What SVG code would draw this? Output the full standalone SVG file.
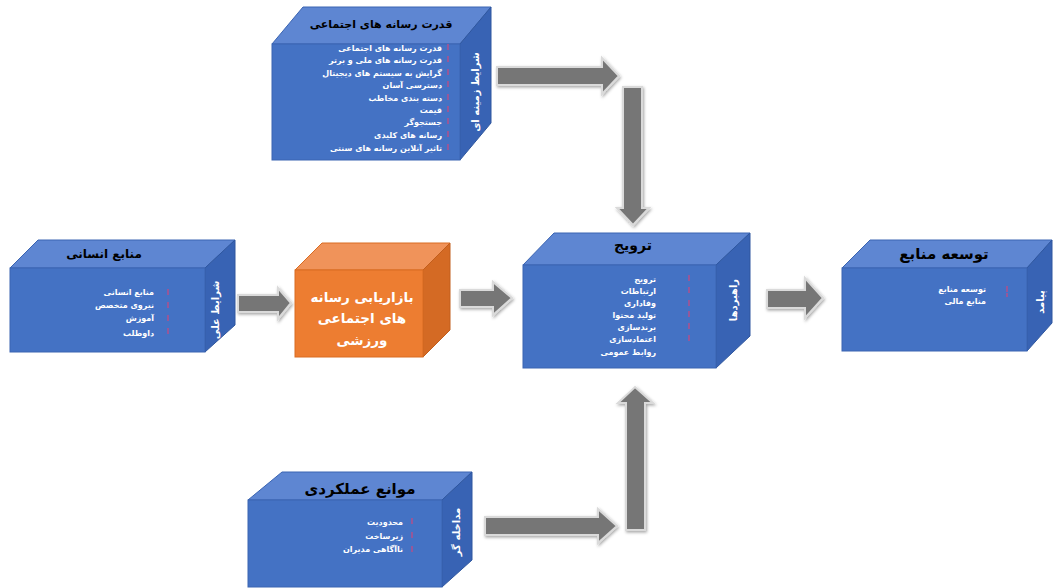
<svg xmlns="http://www.w3.org/2000/svg" width="1055" height="588" viewBox="0 0 1055 588">
<defs>
<filter id="sh" x="-20%" y="-20%" width="140%" height="140%">
<feDropShadow dx="1" dy="1.5" stdDeviation="1.5" flood-color="#000" flood-opacity="0.35"/>
</filter>
<style>
.front{fill:#4472C4;stroke:#3A64B2;stroke-width:1}
.top{fill:#5E86D2;stroke:#3A64B2;stroke-width:1}
.side{fill:#3863B4;stroke:#2F579F;stroke-width:1}
.ofront{fill:#ED7D31;stroke:#D96C22;stroke-width:1}
.otop{fill:#F0935A;stroke:#D96C22;stroke-width:1}
.oside{fill:#D46A24;stroke:#C25E1C;stroke-width:1}
.t{font-family:"DejaVu Sans",sans-serif;font-weight:bold;fill:#000000}
.it{font-family:"DejaVu Sans",sans-serif;font-weight:bold;fill:#ffffff;font-size:8px}
.vs{font-family:"DejaVu Sans",sans-serif;font-weight:bold;fill:#ffffff;font-size:10px}
.ot{font-family:"DejaVu Sans",sans-serif;font-weight:bold;fill:#ffffff;font-size:13.5px}
.b{fill:#B0508C;opacity:0.75}
.arr{fill:#767676;stroke:#DADADA;stroke-width:2;filter:url(#sh)}
</style>
</defs>
<rect width="1055" height="588" fill="#ffffff"/>

<g id="connectors">
<polygon class="arr" points="497,67 602,67 602,58 619,76 602,94 602,85 497,85"/>
<polygon class="arr" points="623,87 642,87 642,208 649,208 633,225 617,208 623,208"/>
<polygon class="arr" points="238,295 278,295 278,288 291,303 278,319 278,312 238,312"/>
<polygon class="arr" points="460,290 493,290 493,282 512,298 493,315 493,307 460,307"/>
<polygon class="arr" points="767,290 805,290 805,278 823,298 805,318 805,308 767,308"/>
<polygon class="arr" points="485,517 598,517 598,509 617,526 598,543 598,535 485,535"/>
<polygon class="arr" points="626,530 626,403 618,403 635,387 653,403 645,403 645,530"/>
</g>

<g id="node-top">
<polygon class="top" points="272,44 303,7 491,7 460,44"/>
<polygon class="side" points="460,44 491,7 491,123 460,160"/>
<rect class="front" x="272" y="44" width="188" height="116"/>
<text class="t" x="381" y="28" font-size="11" text-anchor="middle">قدرت رسانه های اجتماعی</text>
<text class="vs" transform="translate(479,92) rotate(-90)" text-anchor="middle">شرایط زمینه ای</text>
<g>
<rect class="b" x="447" y="44" width="2" height="6"/><rect class="b" x="447" y="56" width="2" height="6"/><rect class="b" x="447" y="69" width="2" height="6"/><rect class="b" x="447" y="81" width="2" height="6"/><rect class="b" x="447" y="94" width="2" height="6"/><rect class="b" x="447" y="106" width="2" height="6"/><rect class="b" x="447" y="118" width="2" height="6"/><rect class="b" x="447" y="131" width="2" height="6"/><rect class="b" x="447" y="144" width="2" height="6"/>
</g>
<text class="it" x="442" y="51" text-anchor="end">قدرت رسانه های اجتماعی</text>
<text class="it" x="442" y="63" text-anchor="end">قدرت رسانه های ملی و برتر</text>
<text class="it" x="442" y="76" text-anchor="end">گرایش به سیستم های دیجیتال</text>
<text class="it" x="442" y="88" text-anchor="end">دسترسی آسان</text>
<text class="it" x="442" y="101" text-anchor="end">دسته بندی مخاطب</text>
<text class="it" x="442" y="113" text-anchor="end">قیمت</text>
<text class="it" x="442" y="125" text-anchor="end">جستجوگر</text>
<text class="it" x="442" y="138" text-anchor="end">رسانه های کلیدی</text>
<text class="it" x="442" y="151" text-anchor="end">تاثیر آنلاین رسانه های سنتی</text>
</g>

<g id="node-left">
<polygon class="top" points="10,268 38,240 235,240 205,268"/>
<polygon class="side" points="205,268 235,240 235,325 205,352"/>
<rect class="front" x="10" y="268" width="195" height="84"/>
<text class="t" x="104" y="258" font-size="12" text-anchor="middle">منابع انسانی</text>
<text class="vs" transform="translate(219,310) rotate(-90)" text-anchor="middle">شرایط علی</text>
<rect class="b" x="167" y="289" width="2" height="6"/><rect class="b" x="167" y="302" width="2" height="6"/><rect class="b" x="167" y="315" width="2" height="6"/><rect class="b" x="167" y="328" width="2" height="6"/>
<text class="it" x="154" y="295" text-anchor="end">منابع انسانی</text>
<text class="it" x="154" y="308" text-anchor="end">نیروی متخصص</text>
<text class="it" x="154" y="321" text-anchor="end">آموزش</text>
<text class="it" x="154" y="336" text-anchor="end">داوطلب</text>
</g>

<g id="node-center-orange">
<polygon class="otop" points="295,270 322,243 450,243 423,270"/>
<polygon class="oside" points="423,270 450,243 450,330 423,357"/>
<rect class="ofront" x="295" y="270" width="128" height="87"/>
<text class="ot" x="362" y="302" text-anchor="middle">بازاریابی رسانه</text>
<text class="ot" x="362" y="323" text-anchor="middle">های اجتماعی</text>
<text class="ot" x="362" y="345" text-anchor="middle">ورزشی</text>
</g>

<g id="node-strategy">
<polygon class="top" points="523,265 554,233 750,233 716,265"/>
<polygon class="side" points="716,265 750,233 750,336 716,368"/>
<rect class="front" x="523" y="265" width="193" height="103"/>
<text class="t" x="633" y="250" font-size="14" text-anchor="middle">ترویج</text>
<text class="vs" transform="translate(737,300) rotate(-90)" text-anchor="middle">راهبردها</text>
<rect class="b" x="688" y="275" width="2" height="6"/><rect class="b" x="688" y="287" width="2" height="6"/><rect class="b" x="688" y="300" width="2" height="6"/><rect class="b" x="688" y="311" width="2" height="6"/><rect class="b" x="688" y="323" width="2" height="6"/><rect class="b" x="688" y="335" width="2" height="6"/>
<text class="it" x="656" y="282" text-anchor="end">ترویج</text>
<text class="it" x="656" y="294" text-anchor="end">ارتباطات</text>
<text class="it" x="656" y="306" text-anchor="end">وفاداری</text>
<text class="it" x="656" y="318" text-anchor="end">تولید محتوا</text>
<text class="it" x="656" y="330" text-anchor="end">برندسازی</text>
<text class="it" x="656" y="342" text-anchor="end">اعتمادسازی</text>
<text class="it" x="656" y="355" text-anchor="end">روابط عمومی</text>
</g>

<g id="node-right">
<polygon class="top" points="842,268 870,240 1052,240 1027,268"/>
<polygon class="side" points="1027,268 1052,240 1052,323 1027,351"/>
<rect class="front" x="842" y="268" width="185" height="83"/>
<text class="t" x="944" y="259" font-size="15" text-anchor="middle">توسعه منابع</text>
<text class="vs" transform="translate(1044,302) rotate(-90)" text-anchor="middle">پیامد</text>
<rect class="b" x="1006" y="286" width="2" height="6"/><rect class="b" x="1006" y="293" width="2" height="4"/>
<text class="it" x="986" y="292" text-anchor="end">توسعه منابع</text>
<text class="it" x="986" y="304" text-anchor="end">منابع مالی</text>
</g>

<g id="node-bottom">
<polygon class="top" points="248,500 282,472 472,472 442,500"/>
<polygon class="side" points="442,500 472,472 472,560 442,587"/>
<rect class="front" x="248" y="500" width="194" height="87"/>
<text class="t" x="360" y="494" font-size="15" text-anchor="middle">موانع عملکردی</text>
<text class="vs" transform="translate(460,532) rotate(-90)" text-anchor="middle">مداخله گر</text>
<rect class="b" x="411" y="518" width="2" height="6"/><rect class="b" x="411" y="532" width="2" height="6"/><rect class="b" x="411" y="546" width="2" height="6"/>
<text class="it" x="403" y="525" text-anchor="end">محدودیت</text>
<text class="it" x="403" y="539" text-anchor="end">زیرساخت</text>
<text class="it" x="403" y="552" text-anchor="end">ناآگاهی مدیران</text>
</g>
</svg>
